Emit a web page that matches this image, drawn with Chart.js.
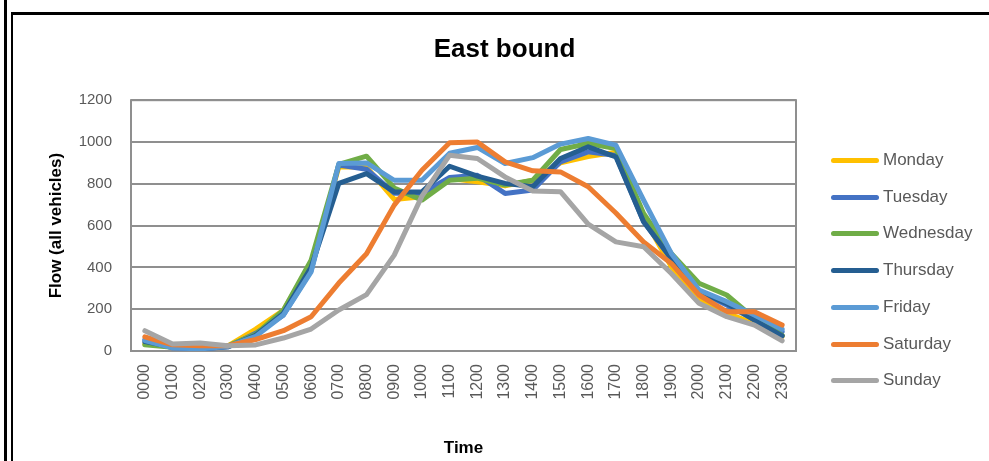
<!DOCTYPE html>
<html>
<head>
<meta charset="utf-8">
<title>East bound</title>
<script src="https://cdn.jsdelivr.net/npm/chart.js@4.4.1/dist/chart.umd.min.js"></script>
<style>
    html, body { margin: 0; padding: 0; background: #fff; }
    #wrap { position: relative; width: 989px; height: 461px; overflow: hidden; }
    #flowChart { position: absolute; left: 0; top: 0; }
    /* document frame round the chart */
    .frame-outer { position: absolute; left: 4px; top: 0; width: 3px; height: 461px; background: #000; }
    .frame-inner { position: absolute; left: 11px; top: 12px; right: 0; bottom: 0;
                   border-left: 2px solid #000; border-top: 3px solid #000; }
    #legend { position: absolute; left: 831px; top: 0; font-family: "Liberation Sans", Arial, sans-serif;
              font-size: 17px; color: #595959; }
    .legend-item { position: absolute; left: 0; white-space: nowrap; height: 20px; line-height: 20px; }
    .legend-line { position: absolute; left: 0; top: 8px; width: 48px; height: 5px; border-radius: 3px; }
    .legend-text { position: absolute; left: 52px; top: 0; }
</style>
</head>
<body>
<div id="wrap">
    <canvas id="flowChart" width="989" height="461"></canvas>
    <div class="frame-outer"></div>
    <div class="frame-inner"></div>
    <div id="legend"></div>
</div>
<script>
// ---- data ----
const hours = ['0000', '0100', '0200', '0300', '0400', '0500', '0600', '0700', '0800', '0900', '1000', '1100',
               '1200', '1300', '1400', '1500', '1600', '1700', '1800', '1900', '2000', '2100', '2200', '2300'];

const dayNames = ['Monday', 'Tuesday', 'Wednesday', 'Thursday', 'Friday', 'Saturday', 'Sunday'];

const monday    = [35, 20, 15, 25, 105, 195, 420, 880, 880, 725, 738, 825, 810, 790, 817, 900, 930, 951, 640, 403, 252, 180, 132, 70];
const tuesday   = [55, 15, 10, 20, 85, 172, 385, 890, 870, 755, 755, 830, 841, 754, 770, 905, 953, 935, 620, 440, 284, 220, 150, 92];
const wednesday = [30, 18, 15, 25, 80, 195, 435, 893, 932, 780, 722, 817, 827, 794, 817, 964, 993, 969, 658, 467, 324, 268, 156, 75];
const thursday  = [45, 20, 12, 20, 75, 180, 400, 802, 849, 761, 761, 884, 837, 802, 786, 921, 977, 929, 618, 443, 284, 228, 148, 72];
const friday    = [50, 15, 10, 22, 70, 172, 379, 897, 900, 817, 817, 946, 974, 897, 925, 990, 1017, 985, 722, 467, 292, 236, 172, 104];
const saturday  = [68, 30, 25, 25, 55, 97, 164, 325, 465, 698, 865, 996, 1000, 905, 862, 857, 786, 660, 522, 419, 268, 188, 188, 124];
const sunday    = [97, 33, 38, 25, 29, 62, 105, 196, 270, 459, 741, 937, 921, 833, 766, 762, 607, 522, 499, 371, 228, 164, 124, 49];

const dayValues = [monday, tuesday, wednesday, thursday, friday, saturday, sunday];

const yTicks = [0, 200, 400, 600, 800, 1000, 1200];

// Excel office palette
const seriesColors = ['#FFC000', '#4472C4', '#70AD47', '#255E91', '#5B9BD5', '#ED7D31', '#A5A5A5'];

const labelFont = '"Liberation Sans", Arial, sans-serif';

// ---- html legend (Excel style, right of the plot) ----
const legendBox = document.getElementById('legend');
dayNames.forEach(function(name, i) {
    const item = document.createElement('div');
    item.className = 'legend-item';
    item.style.top = (150 + i * 36.7) + 'px';
    item.innerHTML = '<span class="legend-line" style="background:' + seriesColors[i] + '"></span>' +
                     '<span class="legend-text">' + name + '</span>';
    legendBox.appendChild(item);
});

// grey border round the plot area
const plotBorder = {
    id: 'plotBorder',
    beforeDatasetsDraw(chart) {
        const {ctx, chartArea: a} = chart;
        ctx.save();
        ctx.strokeStyle = '#8f8f8f';
        ctx.lineWidth = 2;
        ctx.strokeRect(a.left, a.top, a.right - a.left, a.bottom - a.top);
        ctx.restore();
    }
};

const datasets = dayNames.map(function(name, i) {
    return {
        label: name,
        data: dayValues[i],
        borderColor: seriesColors[i],
        backgroundColor: seriesColors[i],
        borderWidth: 5,
        borderJoinStyle: 'round',
        borderCapStyle: 'round',
        pointRadius: 0,
        tension: 0,
        order: dayNames.length - i   // later series drawn on top, like Excel
    };
});

new Chart(document.getElementById('flowChart'), {
    type: 'line',
    data: { labels: hours, datasets: datasets },
    options: {
        responsive: false,
        animation: false,
        layout: { padding: { left: 20, right: 0, top: 0, bottom: 0 } },
        plugins: {
            legend: { display: false },
            tooltip: { enabled: false },
            title: {
                display: true,
                text: 'East bound',
                color: '#000',
                font: { family: labelFont, size: 26, weight: 'bold', lineHeight: 1.2 },
                padding: { top: 34, bottom: 35 }
            }
        },
        scales: {
            x: {
                offset: true,
                grid: { display: false, drawTicks: false },
                border: { display: false },
                ticks: {
                    autoSkip: false,
                    maxRotation: 90,
                    minRotation: 90,
                    padding: 13,
                    color: '#595959',
                    font: { family: labelFont, size: 16 }
                },
                title: {
                    display: true,
                    text: 'Time',
                    color: '#000',
                    font: { family: labelFont, size: 17, weight: 'bold', lineHeight: 1.2 },
                    padding: { top: 0, bottom: 2 }
                },
                afterFit(scale) { scale.height = 110; }
            },
            y: {
                min: 0,
                max: 1200,
                afterBuildTicks(scale) { scale.ticks = yTicks.map(v => ({ value: v })); },
                grid: { color: '#8f8f8f', lineWidth: 2, drawTicks: false },
                border: { display: false },
                ticks: {
                    padding: 19,
                    color: '#595959',
                    font: { family: labelFont, size: 15 },
                    callback: v => String(v)
                },
                title: {
                    display: true,
                    text: 'Flow (all vehicles)',
                    color: '#000',
                    font: { family: labelFont, size: 17, weight: 'bold', lineHeight: 1.2 },
                    padding: { top: 26, bottom: 0 }
                },
                afterFit(scale) { scale.width = 111; }
            },
            // empty axis on the right keeps room for the legend
            legendSpace: {
                position: 'right',
                display: true,
                grid: { display: false, drawTicks: false },
                border: { display: false },
                ticks: { display: false },
                afterFit(scale) { scale.width = 193; }
            }
        }
    },
    plugins: [plotBorder]
});
</script>
</body>
</html>
